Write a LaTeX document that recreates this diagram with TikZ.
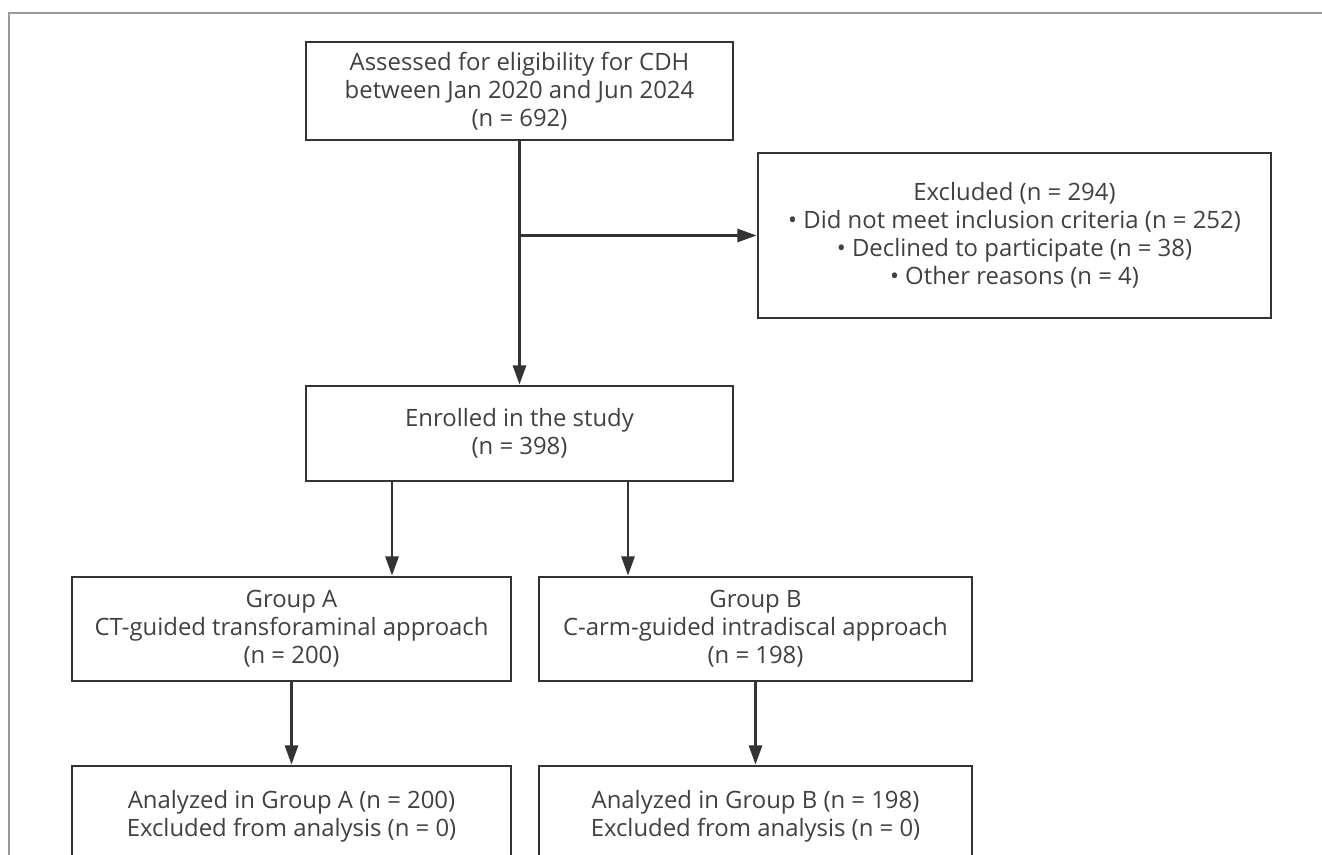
\documentclass[tikz,border=0pt]{standalone}
\usepackage{fontspec}
\setmainfont{Open Sans}
\usetikzlibrary{arrows.meta}

\definecolor{flowline}{HTML}{333333}
\definecolor{flowtext}{HTML}{404040}
\definecolor{framegray}{HTML}{9A9A9A}

\begin{document}
\begin{tikzpicture}[> = {Triangle[length = 11pt, width = 7.5pt]}, x = 0.02cm, y = -0.02cm,
	box/.style = {draw = flowline, line width = 1.6pt, align = center, text = flowtext, inner sep = 0pt,
		font = \fontsize{13.6}{15.9}\selectfont},
	link/.style = {->, draw = flowline, line width = 1.4pt}]

	% Page frame
	
	\clip (0, 0) rectangle (1322, 855);
	\draw [framegray, line width = 1pt] (1322, 13) -- (9, 13) -- (9, 855);
	
	% Screening
	
	\node [box, minimum width = 427 * 0.02cm, minimum height = 98 * 0.02cm] (assessed) at (519.5, 91)
		{Assessed for eligibility for CDH\\between Jan 2020 and Jun 2024\\(n = 692)};
	\node [box, minimum width = 513 * 0.02cm, minimum height = 165 * 0.02cm] (excluded) at (1014.5, 235.5)
		{Excluded (n = 294)\\• Did not meet inclusion criteria (n = 252)\\• Declined to participate (n = 38)\\• Other reasons (n = 4)};
	\node [box, minimum width = 427 * 0.02cm, minimum height = 95 * 0.02cm] (enrolled) at (519.5, 433.5)
		{Enrolled in the study\\(n = 398)};
	
	% Allocation
	
	\node [box, minimum width = 439 * 0.02cm, minimum height = 104 * 0.02cm] (groupA) at (291.5, 629)
		{Group A\\CT-guided transforaminal approach\\(n = 200)};
	\node [box, minimum width = 433 * 0.02cm, minimum height = 104 * 0.02cm] (groupB) at (755.5, 629)
		{Group B\\C-arm-guided intradiscal approach\\(n = 198)};
	
	% Analysis (cut off by the page)
	
	\node [box, minimum width = 439 * 0.02cm, minimum height = 100 * 0.02cm] (analyzedA) at (291.5, 816)
		{Analyzed in Group A (n = 200)\\Excluded from analysis (n = 0)};
	\node [box, minimum width = 433 * 0.02cm, minimum height = 100 * 0.02cm] (analyzedB) at (755.5, 816)
		{Analyzed in Group B (n = 198)\\Excluded from analysis (n = 0)};
	
	% Connectors
	
	\draw [link] (assessed) -- (enrolled);
	\draw [link] (assessed.south |- excluded.west) -- (excluded.west);
	\draw [link] (392, 0 |- enrolled.south) -- (392, 0 |- groupA.north);
	\draw [link] (628, 0 |- enrolled.south) -- (628, 0 |- groupB.north);
	\draw [link] (groupA) -- (analyzedA);
	\draw [link] (groupB) -- (analyzedB);

\end{tikzpicture}
\end{document}
